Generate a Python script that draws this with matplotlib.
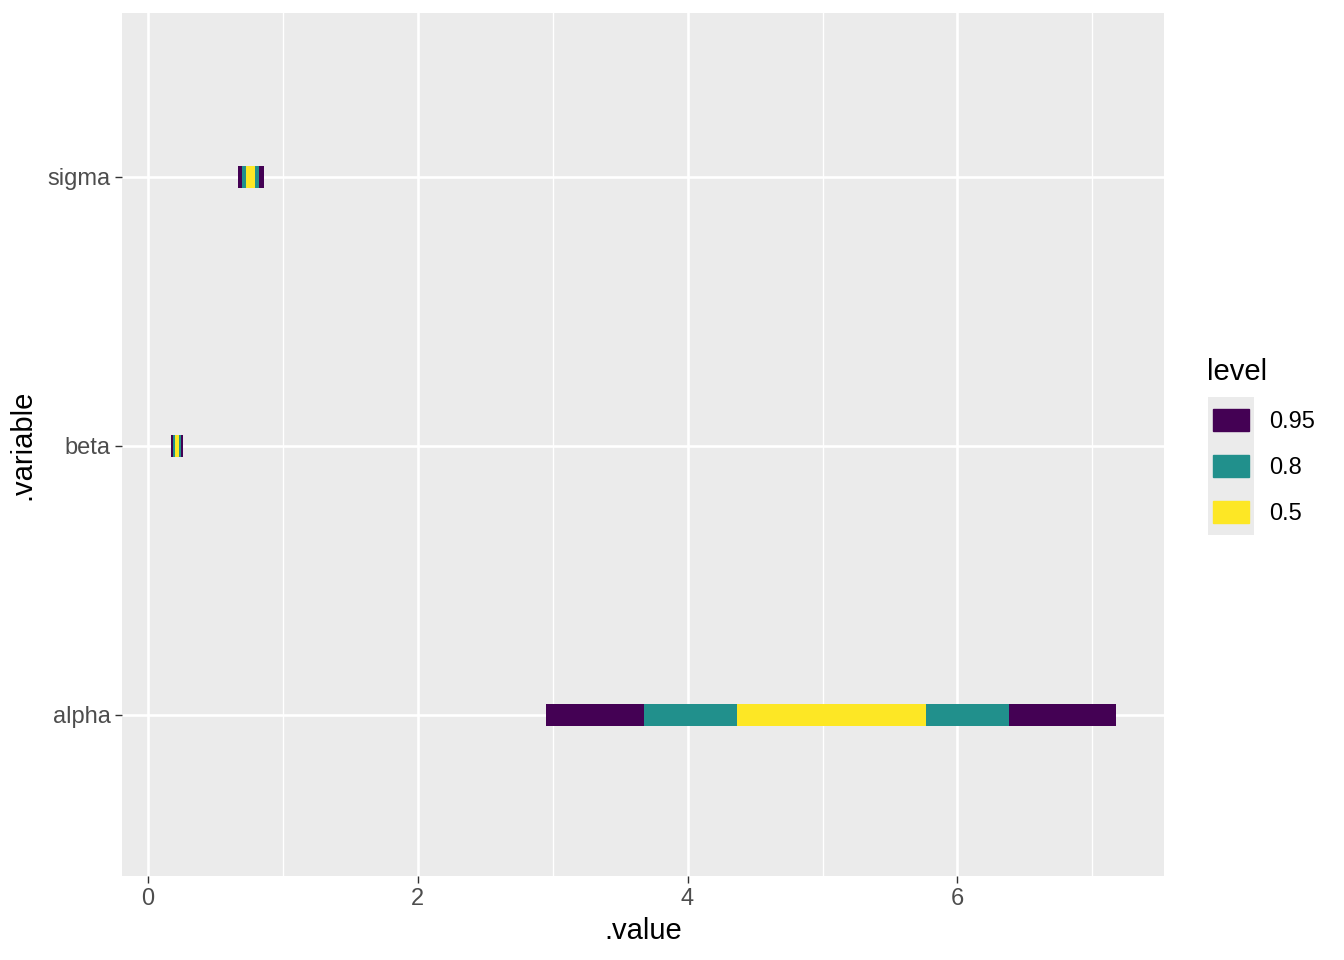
import matplotlib
matplotlib.use('Agg')
from matplotlib import pyplot as plt
from matplotlib.patches import Rectangle

plt.rcParams['font.family'] = ['Liberation Sans', 'DejaVu Sans']

variables = ['alpha', 'beta', 'sigma']
levels = ['0.95', '0.8', '0.5']
colors = ['#440154', '#21908C', '#FDE725']

# interval bounds per level (lower, upper) for alpha, beta, sigma
lower_95 = [2.948, 0.170, 0.667]
upper_95 = [7.178, 0.259, 0.859]
lower_80 = [3.681, 0.185, 0.696]
upper_80 = [6.385, 0.244, 0.822]
lower_50 = [4.370, 0.200, 0.726]
upper_50 = [5.763, 0.230, 0.793]

lowers = [lower_95, lower_80, lower_50]
uppers = [upper_95, upper_80, upper_50]

fig = plt.figure(figsize=(13.44, 9.6), dpi=100)
ax = fig.add_axes([122 / 1344, 1 - 876 / 960, (1164 - 122) / 1344, (876 - 13) / 960])
ax.set_facecolor('#EBEBEB')

ypos = list(range(1, len(variables) + 1))
for lo, hi, c in zip(lowers, uppers, colors):
    w = [h - l for l, h in zip(lo, hi)]
    ax.barh(ypos, w, left=lo, height=0.082, color=c, zorder=3)

ax.set_ylim(0.4, 3.61)
ax.set_xlim(-0.19, 7.53)
ax.set_xticks([0, 2, 4, 6])
ax.set_xticks([1, 3, 5, 7], minor=True)
ax.set_yticks(ypos)
ax.set_yticklabels(variables)
ax.grid(which='major', color='white', linewidth=1.9, zorder=1)
ax.grid(which='minor', axis='x', color='white', linewidth=0.95, zorder=1)
for s in ax.spines.values():
    s.set_visible(False)
ax.tick_params(which='major', length=5.3, width=1.0, color='#333333',
               labelsize=17, labelcolor='#4D4D4D', pad=3)
ax.tick_params(which='minor', length=0)
ax.set_xlabel('.value', fontsize=21, labelpad=5.5)
ax.set_ylabel('.variable', fontsize=21, labelpad=8)

# legend
lax = fig.add_axes([1208 / 1344, 1 - 535 / 960, 46 / 1344, 138 / 960])
lax.set_xlim(0, 46)
lax.set_ylim(138, 0)
lax.axis('off')
lax.add_patch(Rectangle((0, 0), 46, 138, color='#EBEBEB'))
for i, (lab, c) in enumerate(zip(levels, colors)):
    cy = 23 + 46 * i
    lax.add_patch(Rectangle((5, cy - 11), 36, 22, color=c))
    lax.text(61, cy + 2, lab, fontsize=17, va='center', ha='left', clip_on=False)
lax.text(-1, -25, 'level', fontsize=21, va='center', ha='left', clip_on=False)

fig.savefig('out.png', dpi=100)
